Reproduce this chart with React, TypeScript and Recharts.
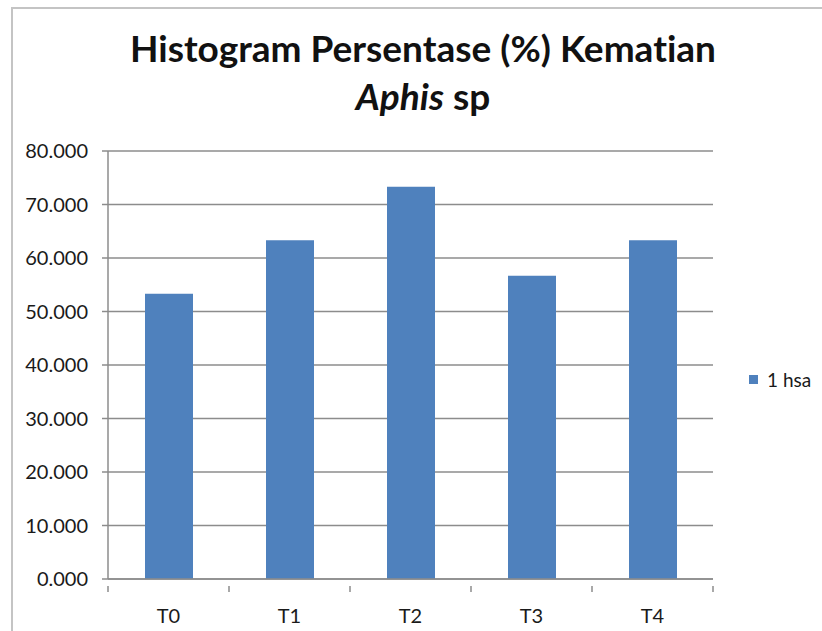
import React from 'react';
import { BarChart, Bar, XAxis, YAxis, CartesianGrid } from 'recharts';

const categories = ['T0', 'T1', 'T2', 'T3', 'T4'];
const mortality = [53.333, 63.333, 73.333, 56.667, 63.333];
const yTicks = [0, 10, 20, 30, 40, 50, 60, 70, 80];
const seriesName = '1 hsa';

const chartData = categories.map((name, i) => ({ name, value: mortality[i] }));

const FONT = 'Lato, "Open Sans", sans-serif';
const GRID = '#8c8c8c';
const BAR = '#4f81bd';

const CategoryTick = (props: any) => {
  const { x, y, payload, width, index } = props;
  const band = width / categories.length;
  return (
    <g>
      <line x1={x + band / 2} y1={y - 1} x2={x + band / 2} y2={y + 5} stroke={GRID} strokeWidth={1.5} />
      {index === 0 && (
        <line x1={x - band / 2} y1={y - 1} x2={x - band / 2} y2={y + 5} stroke={GRID} strokeWidth={1.5} />
      )}
      <text x={x} y={y + 36} textAnchor="middle" fill="#1a1a1a" fontSize={20} fontFamily={FONT}>
        {payload.value}
      </text>
    </g>
  );
};

export default function App() {
  return (
    <div style={{ position: 'absolute', left: 0, top: 0, width: 822, height: 631, background: '#fff', overflow: 'hidden' }}>
      <style>{'html,body{margin:0;overflow:hidden;}'}</style>
      <div
        style={{
          position: 'absolute',
          left: 11,
          top: 7,
          width: 840,
          height: 640,
          borderLeft: '2px solid #c4c4c4',
          borderTop: '2px solid #c4c4c4',
        }}
      />
      <div
        style={{
          position: 'absolute',
          left: 0,
          right: 0,
          paddingLeft: 24,
          top: 24,
          textAlign: 'center',
          fontFamily: FONT,
          fontWeight: 700,
          fontSize: 37,
          lineHeight: '48px',
          color: '#111',
          fontVariantLigatures: 'none',
        }}
      >
        <div>Histogram Persentase (%) Kematian</div>
        <div>
          <i>Aphis</i> sp
        </div>
      </div>
      <div style={{ position: 'absolute', left: 0, top: 0 }}>
        <BarChart
          width={822}
          height={631}
          data={chartData}
          margin={{ top: 151, right: 109, left: 0, bottom: 0 }}
          barSize={48}
        >
          <CartesianGrid vertical={false} stroke={GRID} strokeWidth={1.5} />
          <XAxis
            dataKey="name"
            height={52}
            stroke={GRID}
            strokeWidth={1.5}
            tickLine={false}
            interval={0}
            tick={<CategoryTick />}
          />
          <YAxis
            width={108}
            domain={[0, 80]}
            ticks={yTicks}
            interval={0}
            stroke={GRID}
            strokeWidth={1.5}
            tickSize={6}
            tickMargin={14}
            tickFormatter={(v: number) => v.toFixed(3)}
            tick={{ fill: '#1a1a1a', fontSize: 20, fontFamily: FONT }}
          />
          <Bar dataKey="value" name={seriesName} fill={BAR} isAnimationActive={false} />
        </BarChart>
      </div>
      <div
        style={{
          position: 'absolute',
          left: 749,
          top: 368,
          display: 'flex',
          alignItems: 'center',
          fontFamily: FONT,
          fontSize: 19,
          color: '#1a1a1a',
        }}
      >
        <span style={{ display: 'inline-block', width: 9, height: 9, background: BAR, marginRight: 9 }} />
        <span>{seriesName}</span>
      </div>
    </div>
  );
}
